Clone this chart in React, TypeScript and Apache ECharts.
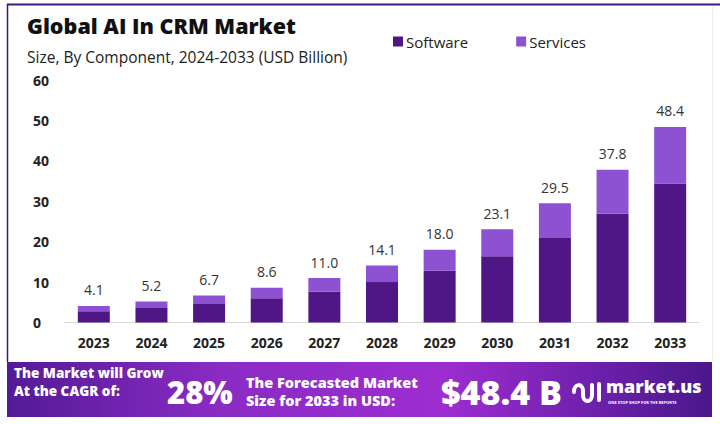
import React, { useEffect, useRef } from "react";
import * as echarts from "echarts";

const years = ["2023", "2024", "2025", "2026", "2027", "2028", "2029", "2030", "2031", "2032", "2033"];
const software = [2.8, 3.6, 4.6, 6.0, 7.6, 10.0, 12.8, 16.4, 20.9, 26.9, 34.4];
const services = [1.3, 1.6, 2.1, 2.6, 3.4, 4.1, 5.2, 6.7, 8.6, 10.9, 14.0];
const yTicks = [0, 10, 20, 30, 40, 50, 60];

const FONT = '"Open Sans", "Noto Sans", sans-serif';

let registered = false;
function registerLogo() {
  if (registered) return;
  registered = true;
  const d = "M2 14 C2 5 11 5 11 13 L11 17 C11 25 20 25 20 17 L20 7 M27 6 L27 22";
  echarts.graphic.registerShape("logo", echarts.graphic.extendPath(d, {}) as any);
}

function bannerLine(text: string, x: number, y: number, size: number) {
  return {
    type: "text",
    x,
    y,
    style: { text, fill: "#ffffff", font: `800 ${size}px ${FONT}`, textVerticalAlign: "middle" },
    z: 6,
  };
}

export default function App() {
  const ref = useRef<HTMLDivElement>(null);
  useEffect(() => {
    if (!ref.current) return;
    registerLogo();
    const chart = echarts.init(ref.current, null, { renderer: "svg" });
    const totals = software.map((s, i) => (s + services[i]).toFixed(1));
    chart.setOption({
      animation: false,
      backgroundColor: "#ffffff",
      textStyle: { fontFamily: FONT },
      title: [
        {
          text: "Global AI In CRM Market",
          left: 22,
          top: 9,
          textStyle: { fontFamily: FONT, fontSize: 21.5, fontWeight: 800, color: "#111111" },
        },
        {
          text: "Size, By Component, 2024-2033 (USD Billion)",
          left: 22,
          top: 44,
          textStyle: { fontFamily: FONT, fontSize: 15.5, fontWeight: 400, color: "#222222" },
        },
      ],
      legend: {
        left: 388,
        top: 29,
        itemWidth: 10,
        itemHeight: 10,
        itemGap: 48,
        icon: "rect",
        textStyle: { fontFamily: FONT, fontSize: 15, color: "#222222", padding: [0, 0, 0, -2] },
        data: ["Software", "Services"],
      },
      grid: { left: 65, right: 21, top: 80, bottom: 101.5 },
      xAxis: {
        type: "category",
        data: years,
        axisLine: { lineStyle: { color: "#d8d8d8", width: 1 } },
        axisTick: { show: false },
        axisLabel: { fontFamily: FONT, fontSize: 14, fontWeight: 700, color: "#222222", margin: 13 },
      },
      yAxis: {
        type: "value",
        min: yTicks[0],
        max: yTicks[yTicks.length - 1],
        interval: 10,
        splitLine: { show: false },
        axisLine: { show: false },
        axisTick: { show: false },
        axisLabel: {
          fontFamily: FONT,
          fontSize: 14,
          fontWeight: 700,
          color: "#222222",
          align: "left",
          margin: 32,
        },
      },
      series: [
        {
          name: "Software",
          type: "bar",
          stack: "total",
          barWidth: 32,
          data: software,
          itemStyle: { color: "#4f1786" },
        },
        {
          name: "Services",
          type: "bar",
          stack: "total",
          barWidth: 32,
          data: services,
          itemStyle: { color: "#8c52d2" },
          label: {
            show: true,
            position: "top",
            distance: 9,
            fontFamily: FONT,
            fontSize: 14,
            color: "#333333",
            formatter: (p: any) => totals[p.dataIndex],
          },
        },
      ],
      graphic: [
        { type: "line", shape: { x1: 7, y1: 4.5, x2: 720, y2: 4.5 }, style: { stroke: "#3d1a78", lineWidth: 2 }, z: 10 },
        { type: "line", shape: { x1: 7.5, y1: 4, x2: 7.5, y2: 362 }, style: { stroke: "#3d1a78", lineWidth: 1.5 }, z: 10 },
        { type: "line", shape: { x1: 712.5, y1: 6, x2: 712.5, y2: 362 }, style: { stroke: "#eeeeee", lineWidth: 1 }, z: 1 },
        {
          type: "rect",
          shape: { x: 7, y: 362, width: 705, height: 55 },
          style: {
            fill: new echarts.graphic.LinearGradient(0, 0, 1, 0, [
              { offset: 0, color: "#531a96" },
              { offset: 0.3, color: "#8a2bc4" },
              { offset: 0.62, color: "#9d2dd0" },
              { offset: 0.85, color: "#6a1fa8" },
              { offset: 1, color: "#4a178a" },
            ]),
          },
          z: 5,
        },
        bannerLine("The Market will Grow", 14, 373, 13.5),
        bannerLine("At the CAGR of:", 14, 391, 13.5),
        {
          type: "text",
          x: 167,
          y: 392,
          style: {
            text: "28%",
            fill: "#ffffff",
            font: `800 31px ${FONT}`,
            textVerticalAlign: "middle",
            shadowBlur: 4,
            shadowColor: "rgba(0,0,0,0.35)",
            shadowOffsetX: 1,
            shadowOffsetY: 2,
          },
          z: 6,
        },
        bannerLine("The Forecasted Market", 246, 382, 14.5),
        bannerLine("Size for 2033 in USD:", 246, 400, 14.5),
        {
          type: "text",
          x: 441,
          y: 392,
          style: {
            text: "$48.4 B",
            fill: "#ffffff",
            font: `800 34px ${FONT}`,
            textVerticalAlign: "middle",
            shadowBlur: 4,
            shadowColor: "rgba(0,0,0,0.35)",
            shadowOffsetX: 1,
            shadowOffsetY: 2,
          },
          z: 6,
        },
        {
          type: "logo",
          x: 572,
          y: 378,
          scaleX: 1,
          scaleY: 1,
          style: { fill: null, stroke: "#ffffff", lineWidth: 4, lineCap: "round", lineJoin: "round" },
          z: 6,
        },
        {
          type: "text",
          x: 606,
          y: 386,
          style: {
            text: "market.us",
            fill: "#ffffff",
            font: `800 18px ${FONT}`,
            textVerticalAlign: "middle",
          },
          z: 6,
        },
        {
          type: "text",
          x: 608,
          y: 402,
          style: {
            text: "ONE STOP SHOP FOR THE REPORTS",
            fill: "#ffffff",
            font: `700 4px ${FONT}`,
            textVerticalAlign: "middle",
          },
          z: 6,
        },
      ],
    });
    return () => chart.dispose();
  }, []);
  return <div ref={ref} style={{ position: "fixed", left: 0, top: 0, width: 720, height: 424 }} />;
}
